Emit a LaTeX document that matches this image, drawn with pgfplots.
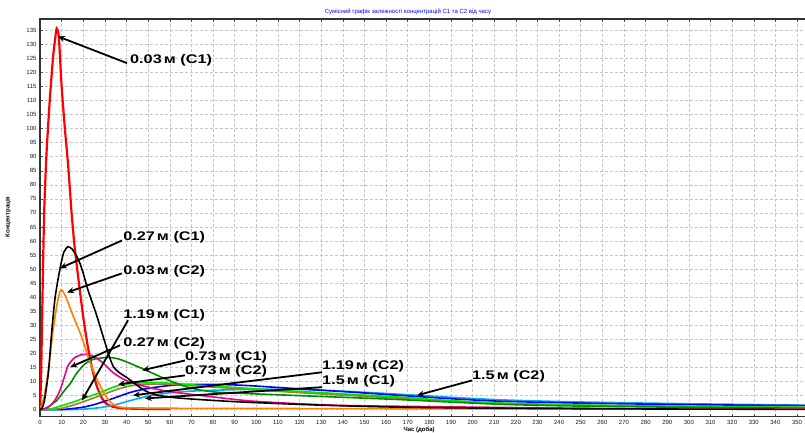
\documentclass[border=0pt]{standalone}
\usepackage{fontspec}
\setmainfont{Liberation Sans}
\newfontfamily\labfont[FakeStretch=1.3]{Liberation Sans}
\usepackage{pgfplots}
\pgfplotsset{compat=1.18}
\usetikzlibrary{arrows.meta}
\definecolor{cgreen}{RGB}{0,140,0}
\definecolor{lgreen}{RGB}{0,230,0}
\definecolor{olive2}{RGB}{150,130,40}
\definecolor{corange}{RGB}{255,128,0}
\begin{document}
\begin{tikzpicture}
\useasboundingbox (0,0) rectangle (805pt,433pt);
\begin{axis}[
 at={(40pt,16.3pt)}, anchor=south west,
 scale only axis, width=770pt, height=397.7pt,
 xmin=0, xmax=356, ymin=-2.5, ymax=139,
 xtick={0,10,...,350}, ytick={0,5,...,135},
 grid=major,
 major grid style={densely dashed, gray!45, line width=0.5pt},
 tick style={gray!60!black, line width=0.5pt},
 major tick length=3pt,
 axis line style={gray!40!black, line width=1.2pt},
 /pgf/number format/assume math mode=true,
 tick label style={font=\fontsize{6}{7}\selectfont, text=gray!20!black},
 clip=true,
 every axis plot/.style={line width=1.6pt, no markers, smooth, tension=0.4},
]
\addplot[red, line width=2.2pt] coordinates {(0,0)(0.5,12)(1,33)(1.5,55)(2,72)(3,91)(4.5,110)(6,125)(7,132)(7.7,135.6)(8.5,134)(9,129)(10,115)(11.5,100)(13,87)(14.6,70)(16,58)(18,45)(20,33)(22,23)(24,15)(26,9)(28,5)(30,2.6)(33,1.2)(37,0.6)(45,0.3)(60,0.2)};
\addplot[cyan] coordinates {(0,0)(10,0)(18,0.1)(25,0.5)(30,1)(36,2)(41.6,3.2)(50,4.8)(60,6.0)(70,6.6)(80,6.9)(95,7.2)(110,7.3)(125,7.1)(145,6.4)(166,5.5)(190,4.4)(213,3.5)(240,2.9)(260,2.6)(300,2.1)(356,1.6)};
\addplot[blue] coordinates {(0,0)(10,0.05)(15,0.4)(20,0.9)(25,1.8)(30.8,3.2)(36,4.6)(42,6.2)(50,7.6)(60,8.6)(70,9.0)(80,9.0)(90,8.8)(100,8.4)(120,7.4)(145,6.2)(166,5.1)(190,3.9)(213,3.0)(240,2.5)(260,2.2)(300,1.8)(356,1.4)};
\addplot[olive2] coordinates {(0,0)(6,0.1)(10,0.5)(15,1.5)(19.3,2.6)(25,4.2)(30,5.6)(36,7.3)(42,8.5)(50,9.1)(60,9.0)(75,8.3)(100,7.0)(130,5.6)(166,4.1)(213,2.3)(260,1.5)(356,0.8)};
\addplot[lgreen] coordinates {(0,0)(5,0.3)(10,1.4)(15,2.6)(20,4)(26,5.6)(30,6.8)(35,8.3)(40,9.1)(46,9.5)(55,9.6)(65,9.2)(74,8.6)(90,7.9)(100,7.4)(120,6.5)(145,5.4)(166,4.5)(190,3.2)(213,2.3)(240,1.8)(260,1.5)(300,1.1)(356,0.8)};
\addplot[cgreen] coordinates {(0,0)(2,0.3)(4,1)(6,2.2)(7.7,3.2)(10,5.5)(12,7.5)(13.9,9.2)(17,13)(20.8,16.3)(25,18)(31.6,18.6)(36,18.1)(40,17)(44,15.7)(47.7,14.5)(54,12.3)(60,10.3)(67,8.3)(74,7.0)(82,6.2)(100,5.6)(120,5.0)(140,4.4)(166,3.6)(190,2.7)(213,1.9)(240,1.4)(260,1.2)(305,0.8)(356,0.5)};
\addplot[magenta] coordinates {(0,0)(2,0.3)(4.6,1.4)(7,3.5)(9.2,6.8)(11,11)(13,15.7)(16,18.5)(20,19.7)(24,19.2)(27.7,17.5)(30,16)(33,13.7)(36,12)(40,10.3)(45,9)(50,8)(57,6.8)(65,5.9)(75,5)(86,4)(97,3.1)(110,2.5)(120,2.1)(140,1.5)(166,1.2)(213,0.8)(260,0.45)(300,0.3)(356,0.25)};
\addplot[corange] coordinates {(0,0)(2,5)(4,15)(6,28)(8,38)(9.7,42.7)(12,40)(15,34)(19.3,25.8)(23,17)(26,11.5)(28.5,7.5)(30.8,4.4)(33,2.4)(35.5,1.2)(40,0.7)(60,0.5)(120,0.4)(200,0.3)(356,0.2)};
\addplot[black] coordinates {(0,0)(1,0.6)(2,3)(3,8)(4,14)(5.4,27.5)(7,40)(9.2,50)(11,56)(13,58)(15,57)(17,54.5)(18.5,52)(20,48.5)(22,43)(24,38.5)(26,34)(28,29)(30,24)(32,19)(34,15.2)(37,13)(40,11.5)(44,9.2)(47,7.5)(50,6.2)(54,5.2)(62,4.3)(70,3.8)(82,3.2)(97,2.6)(130,1.6)(166,0.9)(213,0.5)(260,0.3)(356,0.1)};

\begin{scope}[-{Stealth[length=7pt,width=6pt]}, line width=1.8pt, black]
\draw (axis cs:40.2,123.3) -- (axis cs:8.3,132.8);
\draw (axis cs:37.9,60.2) -- (axis cs:9.2,50.3);
\draw (axis cs:37.9,48.5) -- (axis cs:12.5,41.7);
\draw (axis cs:40.7,31.8) -- (axis cs:19.4,3.3);
\draw (axis cs:37,22.9) -- (axis cs:13.9,15.1);
\draw (axis cs:67,17.5) -- (axis cs:47.2,14.0);
\draw (axis cs:67,12.2) -- (axis cs:36.1,9.0);
\draw (axis cs:130.4,13.3) -- (axis cs:43,5.1);
\draw (axis cs:130.4,8.0) -- (axis cs:48.5,4.0);
\draw (axis cs:199.7,10.4) -- (axis cs:174.3,5.1);
\end{scope}
\begin{scope}[every node/.style={anchor=west, inner sep=0pt, font=\labfont\bfseries\fontsize{12.5}{13}\selectfont}]
\node at (axis cs:41.6,124.3) {0.03\,м (C1)};
\node at (axis cs:38.4,61.3) {0.27\,м (C1)};
\node at (axis cs:38.4,49.2) {0.03\,м (C2)};
\node at (axis cs:38.4,33.6) {1.19\,м (C1)};
\node at (axis cs:38.4,23.6) {0.27\,м (C2)};
\node at (axis cs:67,18.6) {0.73\,м (C1)};
\node at (axis cs:67,13.6) {0.73\,м (C2)};
\node at (axis cs:130.4,15.4) {1.19\,м (C2)};
\node at (axis cs:130.4,10.1) {1.5\,м (C1)};
\node at (axis cs:199.7,11.9) {1.5\,м (C2)};
\end{scope}
\end{axis}
\node[text=blue, font=\fontsize{6}{7}\selectfont] at (408pt,421pt) {Сумісний графік залежності концентрацій С1 та С2 від часу};
\node[font=\bfseries\fontsize{6}{7}\selectfont, anchor=west] at (400pt,3pt) {Час (доба)};
\node[font=\bfseries\fontsize{6}{7}\selectfont, rotate=90] at (8pt,216pt) {Концентрація};
\end{tikzpicture}
\end{document}
